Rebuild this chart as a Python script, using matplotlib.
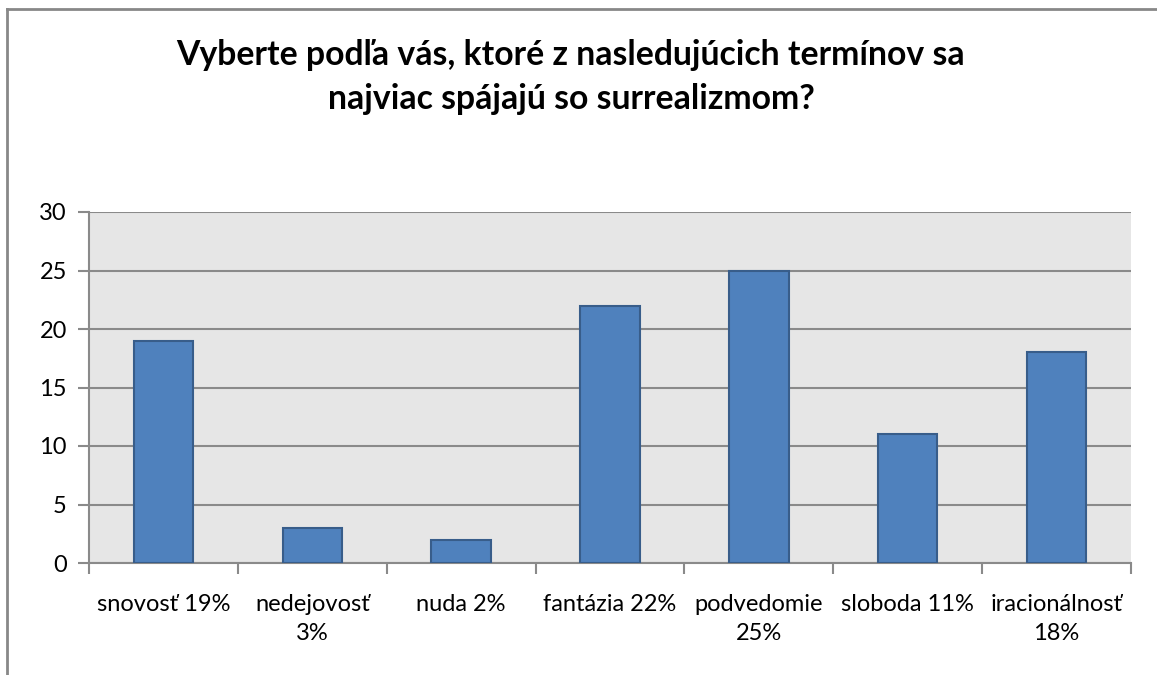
import matplotlib
matplotlib.use('Agg')
import matplotlib.pyplot as plt
from matplotlib.lines import Line2D
import numpy as np

plt.rcParams['font.family'] = ['Lato', 'DejaVu Sans']

# survey answers (count of respondents)
labels = ['snovosť 19%', 'nedejovosť\n3%', 'nuda 2%', 'fantázia 22%',
          'podvedomie\n25%', 'sloboda 11%', 'iracionálnosť\n18%']
values = [19, 3, 2, 22, 25, 11, 18]
yticks = [0, 5, 10, 15, 20, 25, 30]
title = 'Vyberte podľa vás, ktoré z nasledujúcich termínov sa\nnajviac spájajú so surrealizmom?'

grid_c = '#8a8a8a'

fig = plt.figure(figsize=(11.57, 6.75), dpi=100)
ax = fig.add_axes([89/1157, 1 - 563/675, (1131 - 89)/1157, (563 - 212)/675])
ax.set_facecolor('#e6e6e6')

x = np.arange(len(values))
ax.bar(x, values, width=0.4, color='#4f81bd', edgecolor='#385d8a', linewidth=1.5, zorder=3)

ax.set_xlim(-0.5, len(values) - 0.5)
ax.set_ylim(0, 30)
ax.set_yticks(yticks)
ax.yaxis.grid(True, color=grid_c, linewidth=1.5, zorder=1)
ax.set_axisbelow(True)

ax.set_xticks(x)
ax.set_xticklabels(labels, fontsize=17, linespacing=1.5)
ax.set_xticks(np.arange(-0.5, len(values)), minor=True)
ax.tick_params(axis='x', which='major', length=0, pad=22)
ax.tick_params(axis='x', which='minor', length=8, width=1.5, color=grid_c)
ax.tick_params(axis='y', length=8, width=1.5, color=grid_c, labelsize=17, pad=8)

for s in ['top', 'right']:
    ax.spines[s].set_visible(False)
for s in ['left', 'bottom']:
    ax.spines[s].set_color(grid_c)
    ax.spines[s].set_linewidth(1.5)

fig.text(571/1157, 1 - 39/675, title, ha='center', va='top', fontsize=24.3,
         fontweight='bold', linespacing=1.45)

# outer chart frame (only left and top edges fall inside the picture)
fig.add_artist(Line2D([7/1157, 7/1157], [0, 1 - 9/675], transform=fig.transFigure,
                      color='#888888', linewidth=2))
fig.add_artist(Line2D([7/1157, 1], [1 - 9/675, 1 - 9/675], transform=fig.transFigure,
                      color='#888888', linewidth=2))

fig.savefig('out.png', dpi=100)
